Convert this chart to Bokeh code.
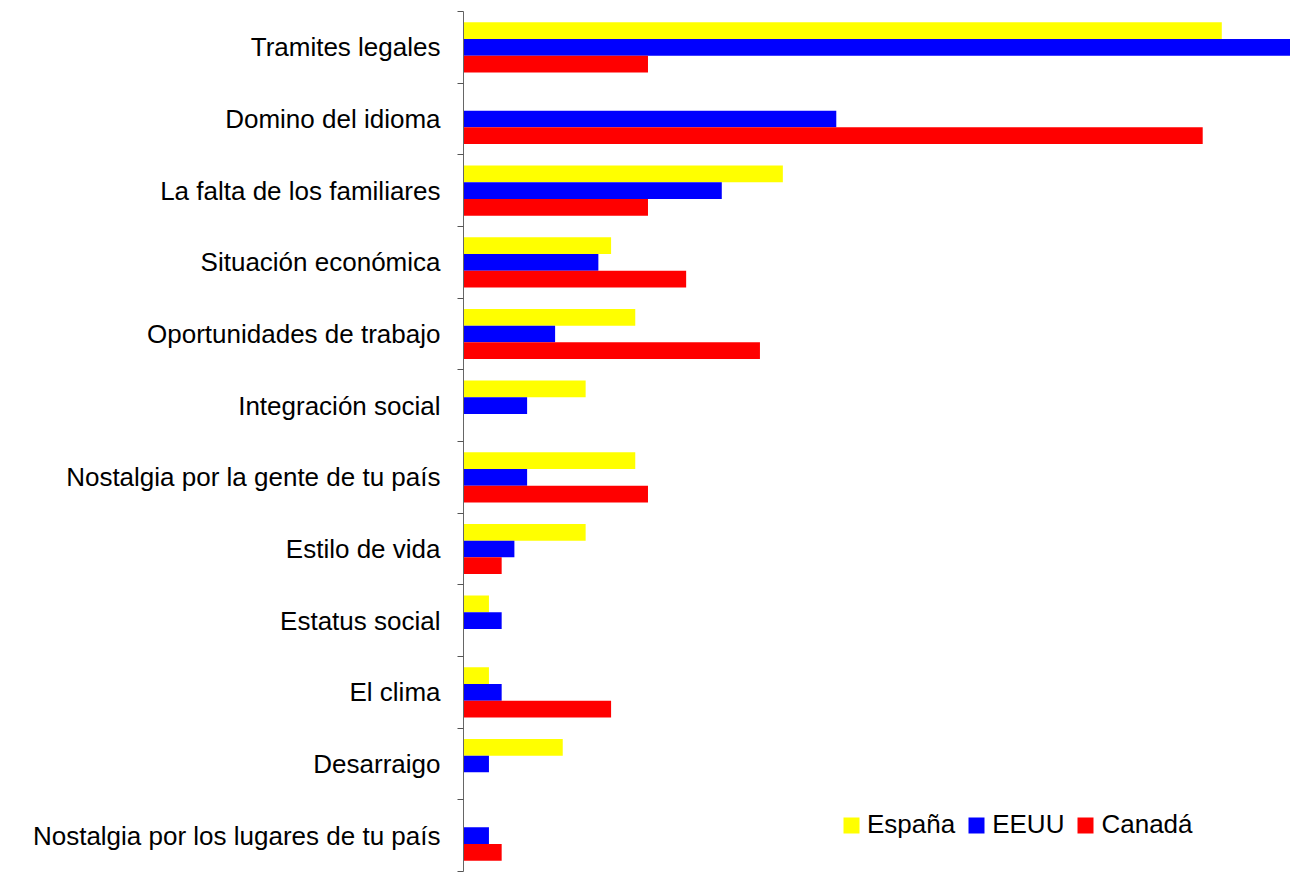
from bokeh.plotting import figure
from bokeh.models import Range1d, FixedTicker, ColumnDataSource, Legend, LegendItem
from bokeh.embed import file_html
from bokeh.resources import INLINE

categories = [
    "Tramites legales",
    "Domino del idioma",
    "La falta de los familiares",
    "Situación económica",
    "Oportunidades de trabajo",
    "Integración social",
    "Nostalgia por la gente de tu país",
    "Estilo de vida",
    "Estatus social",
    "El clima",
    "Desarraigo",
    "Nostalgia por los lugares de tu país",
]
espana = [59.6, 0, 25.1, 11.6, 13.5, 9.6, 13.5, 9.6, 2.0, 2.0, 7.8, 0]
eeuu = [65.0, 29.3, 20.3, 10.6, 7.2, 5.0, 5.0, 4.0, 3.0, 3.0, 2.0, 2.0]
canada = [14.5, 58.1, 14.5, 17.5, 23.3, 0, 14.5, 3.0, 0, 11.6, 0, 3.0]
series_names = ["España", "EEUU", "Canadá"]
colors = ["#FFFF00", "#0000FF", "#FF0000"]

n = len(categories)
centers = [n - 0.5 - i for i in range(n)]
bar_h = 0.233
offsets = [bar_h, 0.0, -bar_h]

p = figure(width=1290, height=872, output_backend="svg", toolbar_location=None,
           x_range=Range1d(0, max(eeuu)), y_range=Range1d(0, n),
           x_axis_location=None, min_border_left=463, min_border_right=0,
           min_border_top=11, min_border_bottom=1)
p.outline_line_color = None
p.grid.visible = False
p.background_fill_color = "white"

renderers = []
for vals, name, col, off in zip([espana, eeuu, canada], series_names, colors, offsets):
    src = ColumnDataSource(dict(y=[c + off for c in centers], right=vals))
    r = p.hbar(y="y", right="right", left=0, height=bar_h, source=src,
               fill_color=col, line_color=None)
    renderers.append((name, r))

ax = p.yaxis[0]
ax.ticker = FixedTicker(ticks=centers, minor_ticks=list(range(n + 1)))
ax.major_label_overrides = {c: name for c, name in zip(centers, categories)}
ax.major_tick_out = 0
ax.major_tick_in = 0
ax.minor_tick_out = 6
ax.minor_tick_in = 0
ax.minor_tick_line_color = "#555555"
ax.axis_line_color = "#666666"
ax.major_label_standoff = 17
ax.major_label_text_font = "Liberation Sans"
ax.major_label_text_font_size = "26px"
ax.major_label_text_color = "black"

legend = Legend(items=[LegendItem(label=nm, renderers=[r]) for nm, r in renderers],
                orientation="horizontal", location=(378, 31),
                border_line_color=None, background_fill_alpha=0,
                label_text_font="Liberation Sans", label_text_font_size="26px",
                label_text_color="black",
                glyph_width=20, glyph_height=20, label_standoff=6, spacing=11,
                padding=0, margin=0)
p.add_layout(legend)

open("out.html", "w").write(file_html(p, INLINE))
